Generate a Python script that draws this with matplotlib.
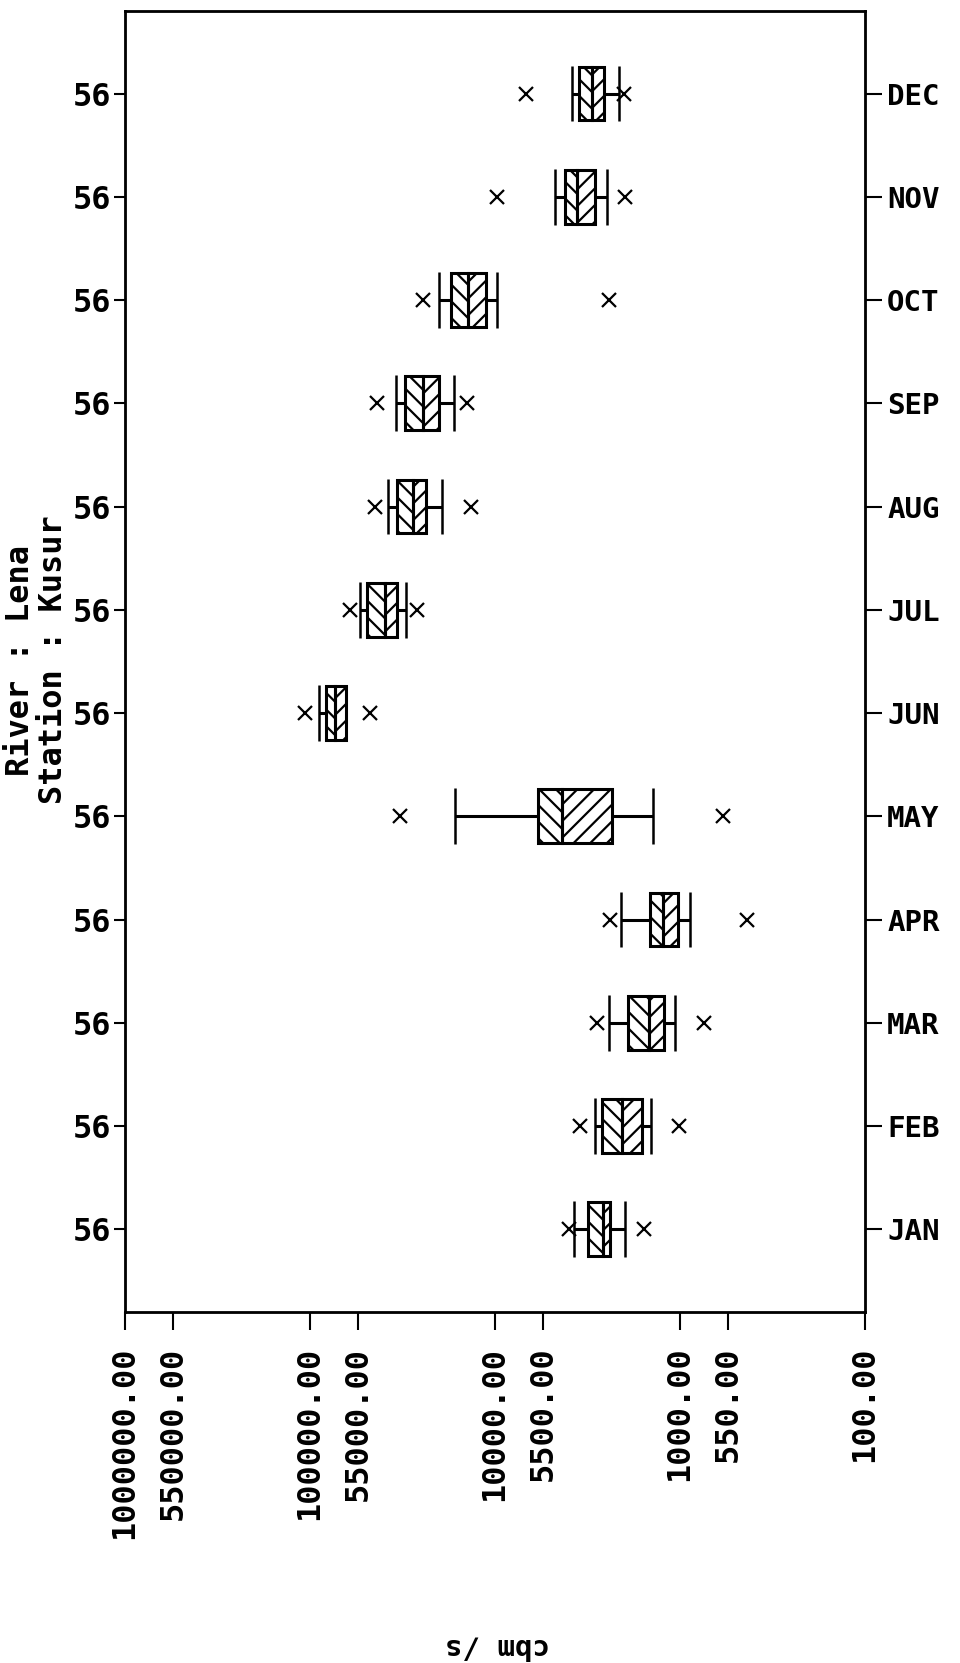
import matplotlib
matplotlib.use("Agg")
import matplotlib.pyplot as plt
from matplotlib.ticker import FixedLocator, NullLocator

plt.rcParams['font.family'] = ['DejaVu Sans Mono', 'DejaVu Sans']
plt.rcParams['font.weight'] = 'bold'
plt.rcParams['hatch.linewidth'] = 1.6

months = ['JAN', 'FEB', 'MAR', 'APR', 'MAY', 'JUN',
          'JUL', 'AUG', 'SEP', 'OCT', 'NOV', 'DEC']
year_labels = ['56'] * 12

# box plot statistics per month (cbm/s)
high_out = [4002, 3461, 2812, 2384, 32600, 106500, 60730, 44510, 43580, 24400, 9700, 6770]
whisk_hi = [3718, 2895, 2404, 2086, 16440, 89100, 53630, 37740, 34260, 19960, 4727, 3836]
q3 = [3147, 2633, 1912, 1460, 5866, 82300, 49360, 33680, 30630, 17350, 4176, 3507]
median = [2612, 2062, 1477, 1236, 4335, 73260, 39310, 27630, 24590, 13910, 3610, 2992]
q1 = [2384, 1600, 1227, 1026, 2326, 63860, 34000, 23670, 19980, 11160, 2873, 2567]
whisk_lo = [1976, 1430, 1069, 879, 1396, 63860, 30260, 19240, 16630, 9700, 2484, 2148]
low_out = [1562, 1018, 745, 434, 583, 47370, 26490, 13510, 14210, 2404, 1976, 2018]

x_ticks = [1000000, 550000, 100000, 55000, 10000, 5500, 1000, 550, 100]

ypos = list(range(1, 13))
half = 0.26

fig = plt.figure(figsize=(9.6, 16.63), dpi=100)
ax = fig.add_axes([0.1302, 0.2111, 0.7708, 0.7823])
ax.set_xscale('log')

for i, y in enumerate(ypos):
    # left part of box (between q3 and median) and right part (median to q1)
    ax.barh(y, q3[i] - median[i], left=median[i], height=2 * half,
            fill=False, hatch='\\\\', edgecolor='black', linewidth=2.2)
    ax.barh(y, median[i] - q1[i], left=q1[i], height=2 * half,
            fill=False, hatch='//', edgecolor='black', linewidth=2.2)
    ax.hlines(y, q3[i], whisk_hi[i], color='black', lw=2.2)
    ax.hlines(y, whisk_lo[i], q1[i], color='black', lw=2.2)
    ax.vlines([whisk_hi[i], whisk_lo[i]], y - half - 0.01, y + half + 0.01,
              color='black', lw=1.8)
    ax.plot([high_out[i], low_out[i]], [y, y], linestyle='none', marker='x',
            color='black', markersize=10, markeredgewidth=1.6)

ax.set_xlim(1000000, 100)
ax.set_ylim(0.2, 12.8)

ax.xaxis.set_major_locator(FixedLocator(x_ticks))
ax.xaxis.set_minor_locator(NullLocator())
ax.set_xticklabels([f'{v:.2f}' for v in x_ticks], rotation=90, fontsize=23,
                   fontweight='bold')
ax.tick_params(axis='x', direction='out', length=13, width=1.5, pad=12)

ax.set_yticks(ypos)
ax.set_yticklabels(year_labels, fontsize=23, fontweight='bold')
ax.tick_params(axis='y', direction='out', length=8, width=1.5, pad=2)

for s in ax.spines.values():
    s.set_linewidth(2)

ax2 = ax.twinx()
ax2.set_ylim(ax.get_ylim())
ax2.set_yticks(ypos)
ax2.set_yticklabels(months, fontsize=21, fontweight='bold')
ax2.tick_params(axis='y', direction='out', length=12, width=1.5, pad=4)

fig.text(37 / 960, 1 - 660 / 1663, 'River : Lena\nStation : Kusur',
         rotation=90, ha='center', va='center', multialignment='center',
         fontsize=23, fontweight='bold', linespacing=1.05)
fig.text(498 / 960, 1 - 1646 / 1663, 'cbm /s', rotation=180,
         ha='center', va='center', fontsize=21, fontweight='bold')

fig.savefig('out.png', dpi=100)
